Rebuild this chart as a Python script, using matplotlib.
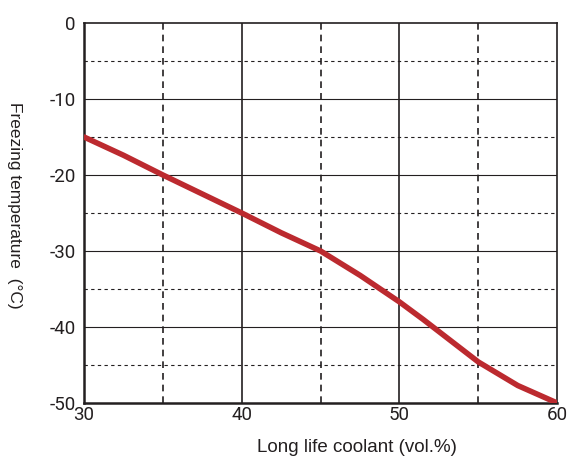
import numpy as np
import matplotlib
matplotlib.use("Agg")
import matplotlib.pyplot as plt

plt.rcParams['font.family'] = ['Roboto', 'DejaVu Sans']
plt.rcParams['axes.unicode_minus'] = False

# coolant concentration vs freezing temperature
concentration = [30, 32.5, 35, 37.5, 40, 42.5, 45, 47.5, 50, 51.5, 52.5, 55, 57.5, 60]
freezing_temp = [-15, -17.4, -20, -22.5, -25, -27.6, -30, -33.2, -36.7, -39.0, -40.6, -44.6, -47.7, -50]

x_ticks = [30, 40, 50, 60]
y_ticks = [-50, -40, -30, -20, -10, 0]

fig = plt.figure(figsize=(5.68, 4.65), dpi=100)
ax = fig.add_axes([0.148, 0.1333, 0.833, 0.8172])

# grid: solid major, dashed minor
for xv in [40, 50]:
    ax.axvline(xv, color='#231f20', lw=1.2, zorder=1)
for xv in [35, 45, 55]:
    ax.axvline(xv, color='#231f20', lw=1.2, ls=(0, (4, 3)), zorder=1)
for yv in [-40, -30, -20, -10]:
    ax.axhline(yv, color='#231f20', lw=0.8, zorder=1)
for yv in [-45, -35, -25, -15, -5]:
    ax.axhline(yv, color='#231f20', lw=0.8, ls=(0, (3, 3)), zorder=1)

ax.plot(concentration, freezing_temp, color='#bc2a2f', lw=4,
        solid_capstyle='round', solid_joinstyle='round', zorder=3)

ax.set_xlim(30, 60)
ax.set_ylim(-50, 0)
ax.set_xticks(x_ticks)
ax.set_yticks(y_ticks)
ax.tick_params(length=0, labelsize=13.5, colors='#231f20', pad=6)
ax.tick_params(axis='x', pad=2)

for side in ['left', 'bottom']:
    ax.spines[side].set_linewidth(1.8)
for side in ['top', 'right']:
    ax.spines[side].set_linewidth(1.2)
for s in ax.spines.values():
    s.set_color('#231f20')

lab_font = ['Liberation Sans', 'DejaVu Sans']
ax.set_xlabel("Long life coolant (vol.%)", fontsize=13.5, color='#231f20', family=lab_font, va='center')
ax.xaxis.set_label_coords(0.576, -0.117)
ax.set_ylabel("Freezing temperature  (°C)", fontsize=12.5, color='#231f20', family=lab_font,
              rotation=-90, va='center')
ax.yaxis.set_label_coords(-0.146, 0.52)

fig.savefig("out.png", dpi=100)
